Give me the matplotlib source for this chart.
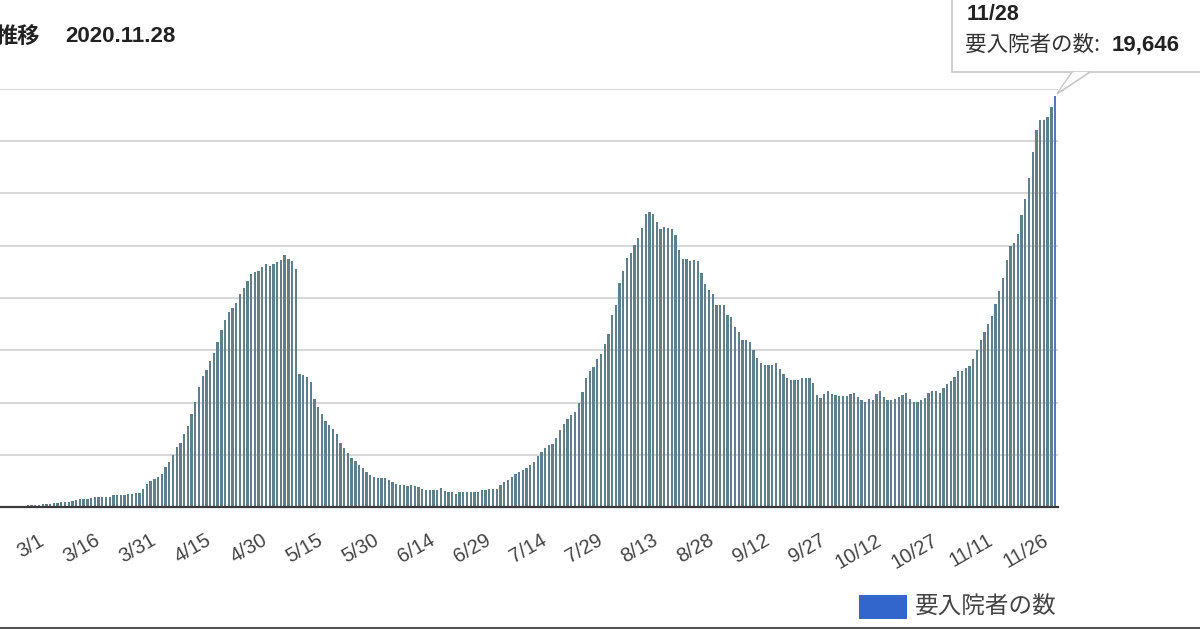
import matplotlib
matplotlib.use("Agg")
import matplotlib.pyplot as plt
import matplotlib.transforms as mtransforms
import pandas as pd
from matplotlib.patches import Rectangle, Polygon
from matplotlib.lines import Line2D

# ---- data -------------------------------------------------------------
start_date = "2020-02-19"
values = [
    40, 45, 50, 55, 60, 65, 70, 80, 90, 100,
    110, 120, 130, 140, 170, 200, 220, 240, 250, 280,
    330, 360, 380, 400, 420, 480, 490, 490, 500, 500,
    560, 570, 580, 580, 600, 640, 650, 680,
    880, 1100, 1260, 1350, 1450, 1600, 1900, 2150, 2470, 2870,
    3060, 3500, 3880, 4470, 5020, 5740, 6250, 6540, 6990, 7370,
    7900, 8450, 8930, 9330, 9520, 9760, 10200, 10480, 10810, 11170,
    11240, 11290, 11480, 11640, 11520, 11640, 11720, 11800, 12040, 11880,
    11750, 11400, 6380, 6330, 6200, 5980, 5180,
    4800, 4430, 4130, 3900, 3748, 3477, 3078, 2839, 2584, 2345,
    2185, 2026, 1866, 1675, 1515, 1436, 1388, 1388, 1388, 1276,
    1196, 1117, 1069, 1037, 989, 1069, 989, 957, 877, 829,
    829, 829, 829, 909, 750, 718, 718, 638, 718, 718,
    718, 718, 718, 718, 798, 798, 877, 877, 877, 1069,
    1196, 1276, 1436, 1595, 1675, 1786, 1866, 1994, 2153, 2424,
    2632, 2839, 2951, 3031, 3318, 3669, 3950, 4200, 4420, 4546,
    4960,
    5503, 6173, 6492, 6700, 7066, 7305, 7816, 8294, 9171, 9682,
    10734, 11277, 11915, 12170, 12521, 12872, 13350, 14036, 14116, 14036,
    13637, 13318, 13398, 13350, 13318, 13031, 12313, 11883, 11883, 11771,
    11835, 11771, 11213, 10687, 10368, 10176, 9682, 9682, 9650, 9171,
    9092, 8613, 8374, 7975, 7975, 7895, 7497, 7146, 6907, 6811,
    6779, 6811, 6907, 6619, 6348, 6173, 6061, 6061, 6061, 6173,
    6173,
    6189, 5949, 5343, 5232, 5423, 5535, 5391, 5375, 5295, 5295,
    5295, 5423, 5455, 5264, 5104, 5024, 5184, 5136, 5391, 5535,
    5264, 5136, 5104, 5184, 5264, 5343, 5455, 5184, 5024, 5024,
    5104, 5232, 5455, 5535, 5535, 5455, 5694, 5870, 6029,
    6220, 6508, 6508, 6667, 6747, 7098, 7497, 7975, 8374, 8773,
    9123, 9698, 10336, 10974, 11803, 12489, 12648, 13079, 13956, 14754,
    15759, 16987, 18024, 18502, 18502, 18662, 19140, 19646,
]
tick_labels = ["3/1", "3/16", "3/31", "4/15", "4/30", "5/15", "5/30", "6/14",
               "6/29", "7/14", "7/29", "8/13", "8/28", "9/12", "9/27", "10/12",
               "10/27", "11/11", "11/26"]
series_name = "要入院者の数"
title_left = "推移"
title_date = "2020.11.28"
tooltip_date = "11/28"

dates = pd.date_range(start_date, periods=len(values))
date_str = [f"{d.month}/{d.day}" for d in dates]
idx = list(range(len(values)))
tick_pos = [date_str.index(t) for t in tick_labels]

# ---- figure ------------------------------------------------------------
W, H = 1200, 629
fig = plt.figure(figsize=(W / 100, H / 100), dpi=100)
fig.patch.set_facecolor("white")

LAT = ["Liberation Sans", "Noto Sans CJK JP"]
CJK = ["Noto Sans CJK JP", "DejaVu Sans"]

def fx(px):
    return px / W

def fy(py):
    return 1 - py / H

ax_left, ax_right, ax_top, ax_bottom = 0, 1058, 89, 507
ax = fig.add_axes([fx(ax_left), fy(ax_bottom), fx(ax_right - ax_left),
                   (ax_bottom - ax_top) / H])
ax.set_facecolor("white")

colors = ["#5f808b"] * len(values)
colors[-1] = "#5a78ad"
ax.bar(idx, values, width=0.62, color=colors, edgecolor="none", zorder=2)

ax.set_ylim(0, 20000)
ax.set_xlim(-0.47, len(values) - 1 + 0.78)
ax.set_yticks([2500 * i for i in range(1, 9)])
ax.yaxis.grid(True, color="#d6d6d6", linewidth=1.4, zorder=0)
ax.set_axisbelow(True)
ax.tick_params(axis="y", length=0, labelleft=False)
for s in ["top", "right", "left"]:
    ax.spines[s].set_visible(False)
ax.spines["bottom"].set_color("#3a3a3a")
ax.spines["bottom"].set_linewidth(1.6)
ax.spines["bottom"].set_zorder(3)

ax.set_xticks(tick_pos)
ax.set_xticklabels(tick_labels, rotation=30, ha="right", va="top",
                   rotation_mode="anchor", fontsize=14.5, color="#444444",
                   family=LAT)
ax.tick_params(axis="x", length=0, pad=17)
shift = mtransforms.ScaledTranslation(-5 / 100, 0, fig.dpi_scale_trans)
for lab in ax.get_xticklabels():
    lab.set_transform(lab.get_transform() + shift)

# ---- title (cropped at the left edge, as in the source image) ----------
fig.text(fx(40), fy(37), title_left, ha="right", va="center", fontsize=16,
         fontweight="bold", color="#222222", family=CJK)
fig.text(fx(65), fy(37), title_date, ha="left", va="center", fontsize=16,
         fontweight="bold", color="#222222", family=LAT)

# ---- legend ------------------------------------------------------------
fig.patches.append(Rectangle((fx(859), fy(619)), fx(48), (619 - 595) / H,
                             transform=fig.transFigure, facecolor="#3366cc",
                             edgecolor="none"))
fig.text(fx(915), fy(607), series_name, ha="left", va="center", fontsize=17,
         color="#444444", family=CJK)

# ---- tooltip -----------------------------------------------------------
box_l, box_r, box_t, box_b = 952, 1215, -10, 72
fig.patches.append(Rectangle((fx(box_l), fy(box_b)), fx(box_r - box_l),
                             (box_b - box_t) / H, transform=fig.transFigure,
                             facecolor="white", edgecolor="#c8c8c8",
                             linewidth=1.2, zorder=5))
tip_x = 1057
tip_y = 94
fig.patches.append(Polygon([(fx(1072), fy(box_b)), (fx(1090), fy(box_b)),
                            (fx(tip_x), fy(tip_y))], closed=True,
                           transform=fig.transFigure, facecolor="white",
                           edgecolor="#c8c8c8", linewidth=1.2, zorder=5))
fig.patches.append(Polygon([(fx(1073.5), fy(box_b - 0.2)), (fx(1088.5), fy(box_b - 0.2)),
                            (fx(1060), fy(90))], closed=True,
                           transform=fig.transFigure, facecolor="white",
                           edgecolor="none", zorder=6))
fig.text(fx(967), fy(15), tooltip_date, ha="left", va="center", fontsize=15.5,
         fontweight="bold", color="#222222", family=LAT, zorder=7)
fig.text(fx(965), fy(45), series_name + ": ", ha="left", va="center",
         fontsize=15.5, color="#333333", family=CJK, zorder=7)
fig.text(fx(1112), fy(45), f"{values[-1]:,}", ha="left", va="center",
         fontsize=16, fontweight="bold", color="#222222", family=LAT, zorder=7)

# ---- bottom border line ------------------------------------------------
fig.add_artist(Line2D([0, 1], [fy(627.5), fy(627.5)], transform=fig.transFigure,
                      color="#555555", linewidth=1.5))

fig.savefig("out.png", dpi=100, facecolor="white")
